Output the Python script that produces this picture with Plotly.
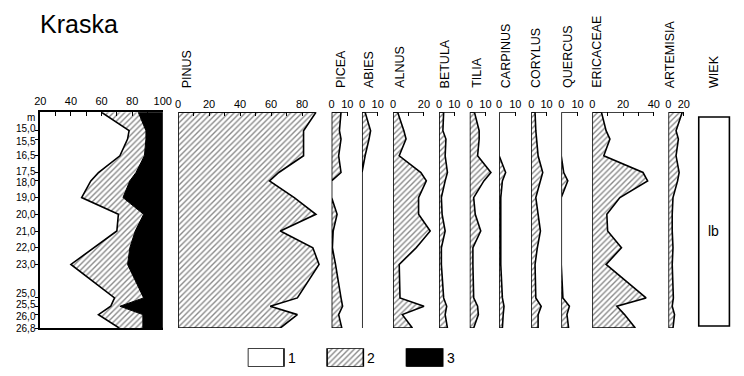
import plotly.graph_objects as go

# ---------------- DATA ----------------
depths = [13.9, 15.0, 15.5, 16.5, 17.5, 18.0, 19.0, 20.0, 21.0, 22.0, 23.0, 25.0, 25.5, 26.0, 26.8]
depth_tickvals = [15.0, 15.5, 16.5, 17.5, 18.0, 19.0, 20.0, 21.0, 22.0, 23.0, 25.0, 25.5, 26.0, 26.8]
depth_ticktext = ["15,0", "15,5", "16,5", "17,5", "18,0", "19,0", "20,0", "21,0", "22,0", "23,0",
                  "25,0", "25,5", "26,0", "26,8"]

# summary diagram: cumulative boundaries (1 | 2 | 3), percent
summary_group1 = [60, 78, 77, 72, 58, 53, 47, 71, 70, 55, 40, 68.5, 66, 58, 71.5]
summary_group12 = [84, 89, 89, 88, 82.5, 78.5, 74, 87.5, 82, 78.5, 77, 87.5, 72, 87, 87]

pinus = [89, 81, 81, 81, 65, 59, 75, 89, 66, 87, 91, 77, 59.5, 77, 66]
picea = [6, 5, 6, 4.5, 6, 0, 0, 3.5, 1, 0.5, 2.5, 6, 7, 4.5, 6.5]
abies = [2, 5.5, 4.5, 2, 0, 0, 0, 0, 0, 0, 0, 0, 0, 0, 0]
alnus = [3, 7, 8.4, 4, 18, 21.5, 16.5, 16.5, 24, 15, 4, 4.5, 20, 6, 12.5]
betula = [3, 2.5, 4.5, 4, 5.5, 4, 1.5, 2, 4, 1.5, 1.5, 3, 5, 4, 5.5]
tilia = [3, 6, 6, 5, 13.5, 9, 2.5, 3.5, 7, 2, 2, 2.5, 5, 5.5, 2.5]
carpinus = [0, 0, 0, 0, 4, 2, 1, 1, 1, 1, 1, 2, 3, 2.5, 2]
corylus = [2.5, 3, 3.5, 4.5, 7.5, 6, 3, 4.5, 6, 4, 2.5, 3, 6.5, 4.5, 4.5]
quercus = [0, 0, 0, 0, 1.5, 4, 0, 0, 0, 0, 0, 1, 5, 3.5, 4.5]
ericaceae = [6, 9, 11.5, 7.5, 33, 36, 18, 9.5, 10, 19, 9, 35, 16, 21, 28]
artemisia = [18, 10, 13, 10, 14, 12, 6, 5, 5, 6, 5, 6.5, 5, 8, 6]

summary_ticks = [20, 30, 40, 50, 60, 70, 80, 90, 100]
summary_ticktext = ["20", "", "40", "", "60", "", "80", "", "100"]

legend_labels = ["1", "2", "3"]
age_label = "lb"
site_title = "Kraska"

# ---------------- LAYOUT HELPERS ----------------
W, H = 744, 376
TOP_PX, BOT_PX = 112.3, 328.0


def fx(p):
    return p / W


def fy(p):
    return 1 - p / H


FONT = "Liberation Sans"
HATCH = dict(shape="/", fgcolor="#111111", bgcolor="white", size=4, solidity=0.34)
LW = 1.6

# small vertical nudges (px, + = up) for crowded depth labels, like the drafted original
label_nudge = {"15,0": 1.7, "15,5": -2.4, "17,5": 1.5, "18,0": -1.9,
               "25,0": 4.9, "25,5": 1.8, "26,0": -1.4}

# name, data, zero pixel, px per %, axis end, tickvals, ticktext, title x pixel
panels = [
    ("PINUS", pinus, 175.7, 1.58, 89, list(range(0, 90, 10)),
     ["0", "", "20", "", "40", "", "60", "", "80"], 185),
    ("PICEA", picea, 332.3, 1.6, 10, [0, 10], ["0", "10"], 342),
    ("ABIES", abies, 363.3, 1.6, 10, [0, 10], ["0", "10"], 371),
    ("ALNUS", alnus, 395.0, 1.58, 20, [0, 10, 20], ["0", "", "20"], 402),
    ("BETULA", betula, 442.0, 1.55, 10, [0, 10], ["0", "10"], 449),
    ("TILIA", tilia, 473.3, 1.6, 10, [0, 10], ["0", "10"], 481),
    ("CARPINUS", carpinus, 503.3, 1.65, 10, [0, 10], ["0", "10"], 511),
    ("CORYLUS", corylus, 536.0, 1.57, 10, [0, 10], ["0", "10"], 541),
    ("QUERCUS", quercus, 566.7, 1.66, 10, [0, 10], ["0", "10"], 574),
    ("ERICACEAE", ericaceae, 598.3, 1.57, 40, [0, 10, 20, 30, 40],
     ["0", "", "20", "", "40"], 603),
    ("ARTEMISIA", artemisia, 676.0, 0.785, 20, [0, 20], ["0", "20"], 678),
]

fig = go.Figure()
layout = dict(
    width=W, height=H, margin=dict(l=0, r=0, t=0, b=0),
    paper_bgcolor="white", plot_bgcolor="rgba(0,0,0,0)",
    showlegend=False, hovermode=False,
    font=dict(family=FONT, color="black", size=11),
)

tick_font = dict(family=FONT, size=11, color="black")

# shared depth axis (ticks drawn by the axis; labels placed as text below)
layout["yaxis"] = dict(
    domain=[fy(BOT_PX), fy(TOP_PX)], range=[depths[-1], depths[0]], anchor="x",
    tickvals=depth_tickvals, showticklabels=False, ticks="outside", ticklen=3,
    tickwidth=1.4, tickcolor="black", showline=True, linecolor="black", linewidth=LW,
    showgrid=False, zeroline=False,
)

# summary panel
layout["xaxis"] = dict(
    domain=[fx(35), fx(160)], range=[20, 100], side="top", anchor="y",
    tickvals=summary_ticks, ticktext=summary_ticktext, ticks="inside", ticklen=4,
    tickwidth=1.4, tickcolor="black", showline=True, mirror=True, linecolor="black",
    linewidth=LW, showgrid=False, zeroline=False, tickfont=tick_font, ticklabelstandoff=1,
)
hx = summary_group1 + summary_group12[::-1] + [summary_group1[0]]
hy = depths + depths[::-1] + [depths[0]]
fig.add_trace(go.Scatter(x=hx, y=hy, xaxis="x", yaxis="y", mode="lines", fill="toself",
                         fillcolor="white", fillpattern=HATCH, line=dict(width=0)))
bx = summary_group12 + [100, 100, summary_group12[0]]
by = depths + [depths[-1], depths[0], depths[0]]
fig.add_trace(go.Scatter(x=bx, y=by, xaxis="x", yaxis="y", mode="lines", fill="toself",
                         fillcolor="black", line=dict(color="black", width=1)))
fig.add_trace(go.Scatter(x=summary_group1, y=depths, xaxis="x", yaxis="y", mode="lines",
                         line=dict(color="black", width=LW)))

shapes = []
annotations = []

# depth labels
for val, txt in zip(depth_tickvals, depth_ticktext):
    annotations.append(dict(text=txt, x=fx(31.5), y=val, xref="paper", yref="y",
                            xanchor="right", yanchor="middle", showarrow=False,
                            yshift=label_nudge.get(txt, 0), borderpad=0,
                            font=dict(family=FONT, size=10, color="black")))
annotations.append(dict(text="m", x=fx(31), y=fy(117.5), xref="paper", yref="paper",
                        xanchor="right", yanchor="middle", showarrow=False, borderpad=0,
                        font=dict(family=FONT, size=10, color="black")))

for i, (name, vals, zero_px, scale, axis_end, tv, tt, title_x) in enumerate(panels, start=2):
    span = max(axis_end, max(vals)) + 6
    layout[f"xaxis{i}"] = dict(
        domain=[fx(zero_px), fx(zero_px + span * scale)], range=[0, span], side="top",
        anchor="y", tickvals=tv, ticktext=tt, ticks="inside", ticklen=4, tickwidth=1.4,
        tickcolor="black", showline=False, showgrid=False, zeroline=False,
        tickfont=tick_font, ticklabelstandoff=1,
    )
    px_ = [0] + list(vals) + [0, 0]
    py_ = [depths[0]] + list(depths) + [depths[-1], depths[0]]
    fig.add_trace(go.Scatter(x=px_, y=py_, xaxis=f"x{i}", yaxis="y", mode="lines",
                             fill="toself", fillcolor="white", fillpattern=HATCH,
                             line=dict(color="black", width=LW)))
    shapes.append(dict(type="line", xref=f"x{i}", yref="y", x0=0, x1=axis_end,
                       y0=depths[0], y1=depths[0], line=dict(color="black", width=LW)))
    annotations.append(dict(text=name, x=fx(title_x), y=fy(89), xref="paper", yref="paper",
                            xanchor="center", yanchor="bottom", textangle=-90, showarrow=False,
                            borderpad=0, font=dict(family=FONT, size=12.5, color="black")))

# WIEK column
annotations.append(dict(text="WIEK", x=fx(723), y=fy(89), xref="paper", yref="paper",
                        xanchor="center", yanchor="bottom", textangle=-90, showarrow=False,
                        borderpad=0, font=dict(family=FONT, size=12.5, color="black")))
shapes.append(dict(type="rect", xref="paper", yref="paper", x0=fx(707), x1=fx(738.3),
                   y0=fy(326), y1=fy(117), line=dict(color="black", width=LW)))
annotations.append(dict(text=age_label, x=fx(722.5), y=fy(231), xref="paper", yref="paper",
                        xanchor="center", yanchor="middle", showarrow=False,
                        font=dict(family=FONT, size=14, color="black")))

# site title
annotations.append(dict(text=site_title, x=fx(34), y=fy(24), xref="paper", yref="paper",
                        xanchor="left", yanchor="middle", showarrow=False, borderpad=0,
                        font=dict(family=FONT, size=25, color="black")))

# legend swatches
li = len(panels) + 2
layout[f"xaxis{li}"] = dict(domain=[fx(246.7), fx(246.7 + 3 * 81)], range=[0, 3], visible=False,
                            anchor="y2")
layout["yaxis2"] = dict(domain=[fy(366.7), fy(348.3)], range=[0, 1], visible=False,
                        anchor=f"x{li}")
sw = 37 / 81
for k, lab in enumerate(legend_labels):
    xs = [k, k + sw, k + sw, k, k]
    ys = [0, 0, 1, 1, 0]
    if k == 0:
        extra = dict(fillcolor="white")
    elif k == 1:
        extra = dict(fillcolor="white", fillpattern=HATCH)
    else:
        extra = dict(fillcolor="black")
    fig.add_trace(go.Scatter(x=xs, y=ys, xaxis=f"x{li}", yaxis="y2", mode="lines", fill="toself",
                             line=dict(color="black", width=LW), **extra))
    annotations.append(dict(text=lab, x=k + 0.48, y=0.5, xref=f"x{li}", yref="y2",
                            xanchor="left", yanchor="middle", showarrow=False,
                            font=dict(family=FONT, size=14, color="black")))

layout["shapes"] = shapes
layout["annotations"] = annotations
fig.update_layout(**layout)
fig.write_html("out.html", config={"displayModeBar": False})
